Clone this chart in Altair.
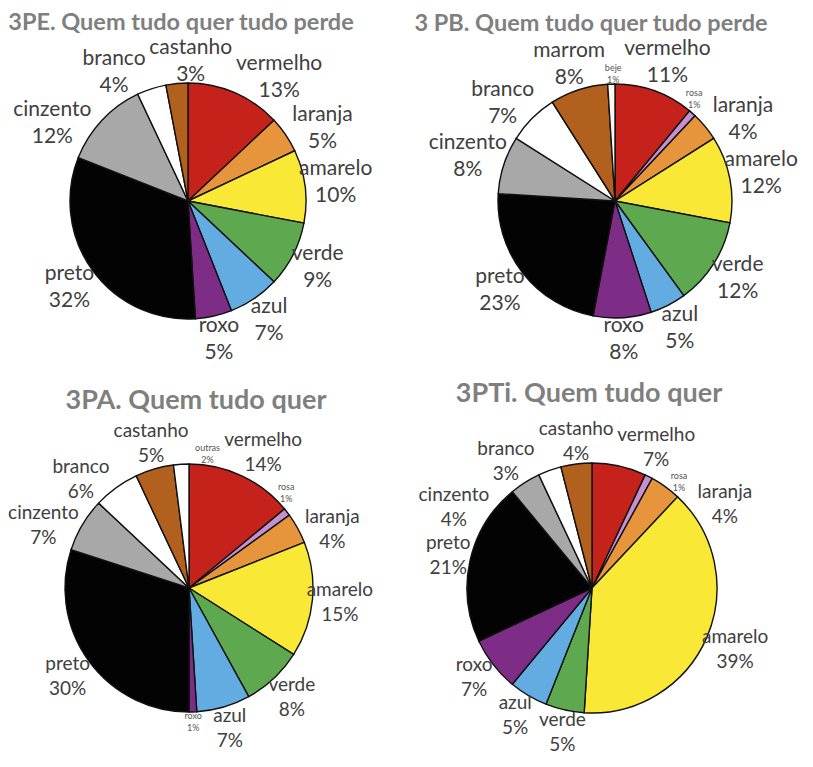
import math
import altair as alt
import pandas as pd

# ---------------- data ----------------
t1 = "3PE. Quem tudo quer tudo perde"
n1 = ["vermelho", "laranja", "amarelo", "verde", "azul", "roxo", "preto", "cinzento", "branco", "castanho"]
v1 = [13, 5, 10, 9, 7, 5, 32, 12, 4, 3]

t2 = "3 PB. Quem tudo quer tudo perde"
n2 = ["vermelho", "rosa", "laranja", "amarelo", "verde", "azul", "roxo", "preto", "cinzento", "branco", "marrom", "beje"]
v2 = [11, 1, 4, 12, 12, 5, 8, 23, 8, 7, 8, 1]

t3 = "3PA. Quem tudo quer"
n3 = ["vermelho", "rosa", "laranja", "amarelo", "verde", "azul", "roxo", "preto", "cinzento", "branco", "castanho", "outras"]
v3 = [14, 1, 4, 15, 8, 7, 1, 30, 7, 6, 5, 2]

t4 = "3PTi. Quem tudo quer"
n4 = ["vermelho", "rosa", "laranja", "amarelo", "verde", "azul", "roxo", "preto", "cinzento", "branco", "castanho"]
v4 = [7, 1, 4, 39, 5, 5, 7, 21, 4, 3, 4]

color_names = ["vermelho", "rosa", "laranja", "amarelo", "verde", "azul", "roxo", "preto",
               "cinzento", "branco", "castanho", "marrom", "beje", "outras"]
color_values = ["#C4221A", "#C58FD0", "#E6953C", "#F9E936", "#5EA94F", "#62ACE2", "#7D2D86", "#030303",
                "#A8A8A8", "#FFFFFF", "#B1601E", "#B1601E", "#FAF7EE", "#FFFFFF"]

FONT = "Lato"
SMALL = 9
SMALL_LH = 12


def label_table(names, values, r, fs, gap=1):
    """Build the table: slice order/value plus an outside-label layout derived from the values."""
    total = float(sum(values))
    labs = []
    cum = 0.0
    for i, (n, v) in enumerate(zip(names, values)):
        mid = (cum + v / 2.0) / total * 2 * math.pi
        cum += v
        size = fs if v > 2 else SMALL
        lh = size * 1.28
        a = max(len(n), len(f"{v}%")) * size * 0.25
        b = lh * 0.92
        labs.append({"i": i, "mid": mid, "ang": mid, "a": a, "b": b, "extra": 0.0, "v": v})

    def center(L):
        s, c = math.sin(L["ang"]), math.cos(L["ang"])
        d = r + gap + 0.75 * abs(s) * L["a"] + 0.8 * abs(c) * L["b"] + L["extra"]
        return d * s, -d * c, d

    step = math.radians(0.5)
    lim = math.radians(28)
    for _ in range(600):
        moved = False
        for i in range(len(labs)):
            for j in range(i + 1, len(labs)):
                A, B = labs[i], labs[j]
                xa, ya, _ = center(A)
                xb, yb, _ = center(B)
                if abs(xa - xb) < A["a"] + B["a"] + 3 and abs(ya - yb) < A["b"] + B["b"] + 1:
                    diff = (B["ang"] - A["ang"] + math.pi) % (2 * math.pi) - math.pi
                    first, second = (A, B) if diff >= 0 else (B, A)
                    ok1 = first["ang"] - step >= first["mid"] - lim
                    ok2 = second["ang"] + step <= second["mid"] + lim
                    if ok1:
                        first["ang"] -= step
                    if ok2:
                        second["ang"] += step
                    if not ok1 and not ok2:
                        smaller = A if A["v"] <= B["v"] else B
                        smaller["extra"] += 1.0
                    moved = True
        if not moved:
            break

    rows = []
    for L, n, v in zip(labs, names, values):
        _, _, d = center(L)
        rows.append({"cor": n, "valor": v, "ordem": L["i"],
                     "rotulo": f"{n}\n{v}%", "lt": L["ang"], "lr": d})
    return pd.DataFrame(rows)


def panel(title, names, values, r, w, h, fs, lh, tfs, toff, tdx):
    df = label_table(names, values, r, fs)
    base = alt.Chart(df)
    arcs = base.mark_arc(outerRadius=r, stroke="#111111", strokeWidth=1.4).encode(
        theta=alt.Theta("valor:Q", stack=True),
        order=alt.Order("ordem:Q", sort="ascending"),
        color=alt.Color("cor:N", scale=alt.Scale(domain=color_names, range=color_values), legend=None),
    )
    # two-line labels: shift up by half a line so the block is centred on its anchor
    big = base.transform_filter("datum.valor > 2").mark_text(
        font=FONT, fontSize=fs, lineHeight=lh, color="#404040",
        align="center", baseline="middle", lineBreak="\n", dy=-lh / 2,
    ).encode(
        theta=alt.Theta("lt:Q", scale=None, stack=False),
        radius=alt.Radius("lr:Q", scale=None),
        text="rotulo:N",
    )
    small = base.transform_filter("datum.valor <= 2").mark_text(
        font=FONT, fontSize=SMALL, lineHeight=SMALL_LH, color="#555555",
        align="center", baseline="middle", lineBreak="\n", dy=-SMALL_LH / 2,
    ).encode(
        theta=alt.Theta("lt:Q", scale=None, stack=False),
        radius=alt.Radius("lr:Q", scale=None),
        text="rotulo:N",
    )
    return alt.layer(arcs, big, small).resolve_scale(theta="independent", radius="independent").properties(
        width=w, height=h,
        title=alt.TitleParams(title, font=FONT, fontSize=tfs, fontWeight="bold", color="#7F7F7F",
                              anchor="middle", frame="group", offset=toff, dx=tdx),
    )


p1 = panel(t1, n1, v1, 118, 346, 290, 21, 27, 23.5, 3, -7)
p2 = panel(t2, n2, v2, 117, 376, 290, 21, 27, 23.5, 3, -24)
p3 = panel(t3, n3, v3, 124, 348, 300, 19, 25, 27, 7, 7)
p4 = panel(t4, n4, v4, 125, 330, 300, 19, 25, 27, 12, -3)

chart = alt.concat(
    p1, p2, p3, p4, columns=2, align="none", bounds="flush",
    spacing=alt.RowColnumber(row=92, column=64),
).properties(
    padding={"left": 0, "top": 2, "right": 0, "bottom": 0}
).configure_view(stroke=None)

chart.save("out.html", embed_options={"renderer": "svg", "actions": False})
